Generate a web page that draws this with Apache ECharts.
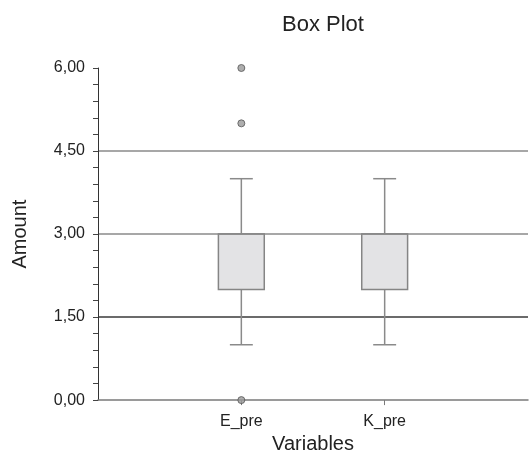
<!DOCTYPE html>
<html>
<head>
<meta charset="utf-8">
<script src="https://cdn.jsdelivr.net/npm/echarts@6/dist/echarts.min.js"></script>
<style>
  html, body { margin: 0; padding: 0; background: #fff; }
  #chart { width: 531px; height: 459px; }
</style>
</head>
<body>
<div id="chart"></div>
<script>
// categories (padded with empty slots at both ends of the axis)
var categories = ['', 'E_pre', 'K_pre', ''];
// box stats: [category, min, q1, median, q3, max]
var boxStats = [
  ['E_pre', 1, 2, 3, 3, 4],
  ['K_pre', 1, 2, 3, 3, 4]
];
// outliers: [category, value]
var outliers = [
  ['E_pre', 6],
  ['E_pre', 5],
  ['E_pre', 0]
];
var yTicks = [0, 1.5, 3, 4.5, 6];

var FONT = 'Liberation Sans';

function renderBox(params, api) {
  var x = api.value(0);
  var lo = api.coord([x, api.value(1)]);
  var q1 = api.coord([x, api.value(2)]);
  var md = api.coord([x, api.value(3)]);
  var q3 = api.coord([x, api.value(4)]);
  var hi = api.coord([x, api.value(5)]);
  var band = api.size([1, 0])[0];
  var bw = band * 0.32;
  var cw = band * 0.16;
  var cx = lo[0];
  var line = { stroke: '#8a8a8a', lineWidth: 1.5 };
  return {
    type: 'group',
    children: [
      { type: 'line', shape: { x1: cx, y1: hi[1], x2: cx, y2: q3[1] }, style: line },
      { type: 'line', shape: { x1: cx, y1: q1[1], x2: cx, y2: lo[1] }, style: line },
      { type: 'line', shape: { x1: cx - cw / 2, y1: hi[1], x2: cx + cw / 2, y2: hi[1] }, style: line },
      { type: 'line', shape: { x1: cx - cw / 2, y1: lo[1], x2: cx + cw / 2, y2: lo[1] }, style: line },
      { type: 'rect', shape: { x: cx - bw / 2, y: q3[1], width: bw, height: q1[1] - q3[1] },
        style: { fill: '#e3e3e5', stroke: '#858585', lineWidth: 1.5 } },
      { type: 'line', shape: { x1: cx - bw / 2, y1: md[1], x2: cx + bw / 2, y2: md[1] }, style: line }
    ]
  };
}

var myChart = echarts.init(document.getElementById('chart'));
var option = {
  backgroundColor: '#fff',
  animation: false,
  title: {
    text: 'Box Plot',
    left: 277,
    top: 9,
    textStyle: { fontFamily: FONT, fontSize: 22, fontWeight: 'normal', color: '#222' }
  },
  grid: { left: 98, right: 0, top: 68, bottom: 54, containLabel: false },
  xAxis: {
    type: 'category',
    data: categories,
    boundaryGap: false,
    name: 'Variables',
    nameLocation: 'middle',
    nameGap: 33,
    nameTextStyle: { fontFamily: FONT, fontSize: 20, color: '#222' },
    axisLine: { lineStyle: { color: '#7a7a7a', width: 1.5 } },
    axisTick: {
      length: 5,
      interval: function (index, value) { return value !== ''; },
      lineStyle: { color: '#7a7a7a' }
    },
    axisLabel: {
      margin: 13,
      fontFamily: FONT, fontSize: 16, color: '#222',
      interval: 0
    },
    splitLine: { show: false }
  },
  yAxis: {
    type: 'value',
    min: yTicks[0],
    max: yTicks[yTicks.length - 1],
    interval: 1.5,
    name: 'Amount',
    nameLocation: 'middle',
    nameRotate: 90,
    nameGap: 68,
    nameTextStyle: { fontFamily: FONT, fontSize: 20, color: '#222' },
    axisLine: { show: true, lineStyle: { color: '#333', width: 1 } },
    axisTick: { show: true, length: 5, lineStyle: { color: '#444' } },
    minorTick: { show: true, splitNumber: 5, length: 5, lineStyle: { color: '#444' } },
    axisLabel: {
      margin: 13,
      fontFamily: FONT, fontSize: 16, color: '#222',
      formatter: function (v) { return v.toFixed(2).replace('.', ','); }
    },
    splitLine: {
      show: true,
      lineStyle: { color: ['rgba(0,0,0,0)', '#3a3a3a', '#8a8a8a', '#8a8a8a', 'rgba(0,0,0,0)'], width: 1.5 }
    }
  },
  series: [
    {
      type: 'custom',
      renderItem: renderBox,
      encode: { x: 0, y: [1, 2, 3, 4, 5] },
      data: boxStats,
      z: 3
    },
    {
      type: 'scatter',
      data: outliers,
      symbol: 'circle',
      symbolSize: 7,
      itemStyle: { color: '#9a9a9a', borderColor: '#555', borderWidth: 1 },
      z: 4
    }
  ]
};
myChart.setOption(option);
</script>
</body>
</html>
